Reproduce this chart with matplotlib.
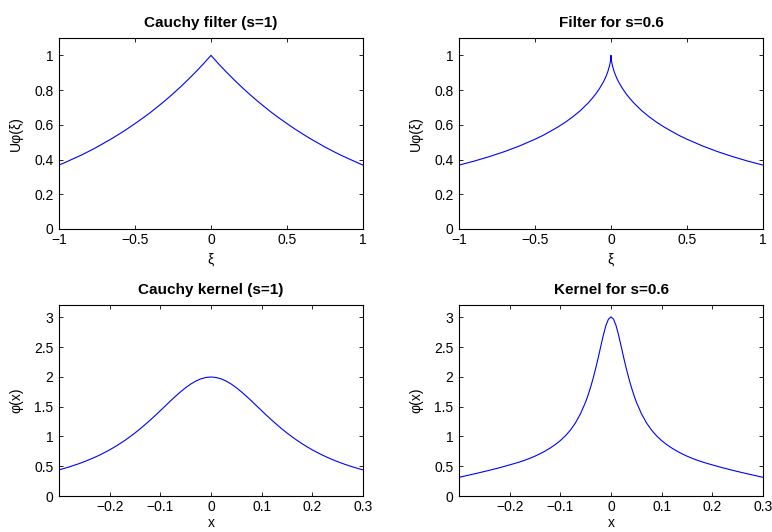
import matplotlib
matplotlib.use('Agg')
import numpy as np
import matplotlib.pyplot as plt
from matplotlib.ticker import FuncFormatter

# %% Data
# Cauchy filter (s=1)
xi_1 = [-1.0, -0.95, -0.9, -0.85, -0.8, -0.75, -0.7, -0.65, -0.6, -0.55, -0.5,
        -0.45, -0.4, -0.35, -0.3, -0.25, -0.2, -0.15, -0.1, -0.05, 0.0,
        0.05, 0.1, 0.15, 0.2, 0.25, 0.3, 0.35, 0.4, 0.45, 0.5,
        0.55, 0.6, 0.65, 0.7, 0.75, 0.8, 0.85, 0.9, 0.95, 1.0]
filt_1 = [0.368, 0.387, 0.407, 0.427, 0.449, 0.472, 0.497, 0.522, 0.549, 0.577, 0.607,
          0.638, 0.670, 0.705, 0.741, 0.779, 0.819, 0.861, 0.905, 0.951, 1.000,
          0.951, 0.905, 0.861, 0.819, 0.779, 0.741, 0.705, 0.670, 0.638, 0.607,
          0.577, 0.549, 0.522, 0.497, 0.472, 0.449, 0.427, 0.407, 0.387, 0.368]

# Filter for s=0.6
xi_06 = [-1.0, -0.9, -0.8, -0.7, -0.6, -0.5, -0.45, -0.4, -0.35, -0.3, -0.25, -0.2,
         -0.15, -0.125, -0.1, -0.075, -0.05, -0.04, -0.03, -0.02, -0.01, -0.005,
         -0.002, -0.001, -0.0005, 0.0,
         0.0005, 0.001, 0.002, 0.005, 0.01, 0.02, 0.03, 0.04, 0.05, 0.075, 0.1,
         0.125, 0.15, 0.2, 0.25, 0.3, 0.35, 0.4, 0.45, 0.5, 0.6, 0.7, 0.8, 0.9, 1.0]
filt_06 = [0.368, 0.391, 0.417, 0.446, 0.479, 0.517, 0.538, 0.562, 0.587, 0.615, 0.647, 0.683,
           0.726, 0.751, 0.778, 0.810, 0.847, 0.865, 0.885, 0.909, 0.939, 0.959,
           0.976, 0.984, 0.990, 1.000,
           0.990, 0.984, 0.976, 0.959, 0.939, 0.909, 0.885, 0.865, 0.847, 0.810, 0.778,
           0.751, 0.726, 0.683, 0.647, 0.615, 0.587, 0.562, 0.538, 0.517, 0.479, 0.446,
           0.417, 0.391, 0.368]

# Cauchy kernel (s=1)
x_1 = [-0.3, -0.29, -0.28, -0.27, -0.26, -0.25, -0.24, -0.23, -0.22, -0.21, -0.2,
       -0.19, -0.18, -0.17, -0.16, -0.15, -0.14, -0.13, -0.12, -0.11, -0.1,
       -0.09, -0.08, -0.07, -0.06, -0.05, -0.04, -0.03, -0.02, -0.01, 0.0,
       0.01, 0.02, 0.03, 0.04, 0.05, 0.06, 0.07, 0.08, 0.09, 0.1,
       0.11, 0.12, 0.13, 0.14, 0.15, 0.16, 0.17, 0.18, 0.19, 0.2,
       0.21, 0.22, 0.23, 0.24, 0.25, 0.26, 0.27, 0.28, 0.29, 0.3]
kern_1 = [0.439, 0.463, 0.488, 0.516, 0.545, 0.577, 0.611, 0.648, 0.687, 0.730, 0.775,
          0.825, 0.878, 0.934, 0.995, 1.059, 1.128, 1.200, 1.275, 1.353, 1.434,
          1.515, 1.597, 1.676, 1.751, 1.820, 1.881, 1.931, 1.969, 1.992, 2.000,
          1.992, 1.969, 1.931, 1.881, 1.820, 1.751, 1.676, 1.597, 1.515, 1.434,
          1.353, 1.275, 1.200, 1.128, 1.059, 0.995, 0.934, 0.878, 0.825, 0.775,
          0.730, 0.687, 0.648, 0.611, 0.577, 0.545, 0.516, 0.488, 0.463, 0.439]

# Kernel for s=0.6
x_06 = [-0.3, -0.28, -0.26, -0.24, -0.22, -0.2, -0.19, -0.18, -0.17, -0.16,
        -0.15, -0.14, -0.13, -0.12, -0.11, -0.1, -0.09, -0.08, -0.07, -0.06,
        -0.05, -0.045, -0.04, -0.035, -0.03, -0.025, -0.02, -0.015, -0.01, -0.005, 0.0,
        0.005, 0.01, 0.015, 0.02, 0.025, 0.03, 0.035, 0.04, 0.045, 0.05,
        0.06, 0.07, 0.08, 0.09, 0.1, 0.11, 0.12, 0.13, 0.14, 0.15,
        0.16, 0.17, 0.18, 0.19, 0.2, 0.22, 0.24, 0.26, 0.28, 0.3]
kern_06 = [0.314, 0.352, 0.391, 0.432, 0.475, 0.523, 0.547, 0.573, 0.602, 0.634,
           0.670, 0.710, 0.755, 0.806, 0.864, 0.931, 1.011, 1.108, 1.230, 1.385,
           1.580, 1.700, 1.835, 1.985, 2.150, 2.330, 2.520, 2.705, 2.865, 2.972, 3.010,
           2.972, 2.865, 2.705, 2.520, 2.330, 2.150, 1.985, 1.835, 1.700, 1.580,
           1.385, 1.230, 1.108, 1.011, 0.931, 0.864, 0.806, 0.755, 0.710, 0.670,
           0.634, 0.602, 0.573, 0.547, 0.523, 0.475, 0.432, 0.391, 0.352, 0.314]

filter_ticks_x = [-1, -0.5, 0, 0.5, 1]
filter_ticks_y = [0, 0.2, 0.4, 0.6, 0.8, 1]
kernel_ticks_x = [-0.2, -0.1, 0, 0.1, 0.2, 0.3]
kernel_ticks_y = [0, 0.5, 1, 1.5, 2, 2.5, 3]

# %% Plot
plt.rcParams['font.family'] = ['Liberation Sans', 'DejaVu Sans']
plt.rcParams['font.size'] = 10


def fmt(v, pos):
    return ('%g' % v).replace('-', '\u2212')


fig = plt.figure(figsize=(7.72, 5.32), dpi=100)
W, H = 772.0, 532.0


def make_ax(left, top, right, bottom):
    return fig.add_axes([left / W, 1 - bottom / H, (right - left) / W, (bottom - top) / H])


def style(ax, title, xlabel, ylabel, xt, yt, xlim, ylim, xpad=4):
    ax.set_xlim(*xlim)
    ax.set_ylim(*ylim)
    ax.set_xticks(xt)
    ax.set_yticks(yt)
    ax.xaxis.set_major_formatter(FuncFormatter(fmt))
    ax.yaxis.set_major_formatter(FuncFormatter(fmt))
    ax.tick_params(direction='in', length=3, width=0.6, top=True, right=True,
                   labelsize=10)
    ax.tick_params(axis='x', pad=3)
    ax.tick_params(axis='y', pad=4)
    for sp in ax.spines.values():
        sp.set_linewidth(0.8)
    ax.set_title(title, fontsize=11, fontweight='bold', pad=8)
    ax.set_xlabel(xlabel, fontsize=10, labelpad=xpad)
    ax.set_ylabel(ylabel, fontsize=10, labelpad=8)


ax0 = make_ax(59, 38, 363, 229)
ax0.plot(xi_1, filt_1, color='b', linewidth=0.8)
style(ax0, 'Cauchy filter (s=1)', 'ξ', 'Uφ(ξ)', filter_ticks_x, filter_ticks_y, (-1, 1), (0, 1.1))

ax1 = make_ax(459, 38, 763, 229)
ax1.plot(xi_06, filt_06, color='b', linewidth=0.8)
style(ax1, 'Filter for s=0.6', 'ξ', 'Uφ(ξ)', filter_ticks_x, filter_ticks_y, (-1, 1), (0, 1.1))

ax2 = make_ax(59, 305, 363, 496)
ax2.plot(x_1, kern_1, color='b', linewidth=0.8)
style(ax2, 'Cauchy kernel (s=1)', 'x', 'φ(x)', kernel_ticks_x, kernel_ticks_y,
      (-0.2999, 0.3), (0, 3.21), xpad=1)

ax3 = make_ax(459, 305, 763, 496)
ax3.plot(x_06, kern_06, color='b', linewidth=0.8)
style(ax3, 'Kernel for s=0.6', 'x', 'φ(x)', kernel_ticks_x, kernel_ticks_y,
      (-0.2999, 0.3), (0, 3.21), xpad=1)

fig.savefig('out.png', dpi=100)
